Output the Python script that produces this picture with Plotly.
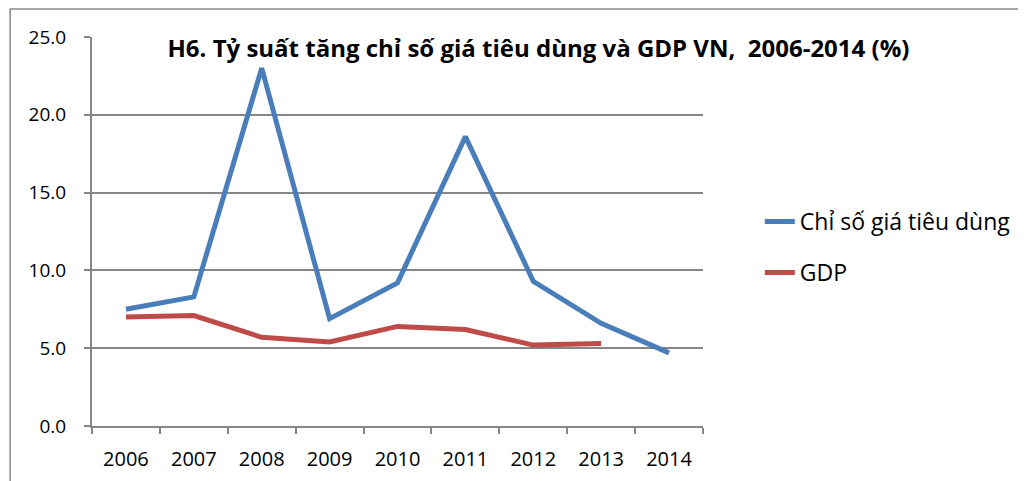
import plotly.graph_objects as go

years = ["2006", "2007", "2008", "2009", "2010", "2011", "2012", "2013", "2014"]
cpi = [7.5, 8.3, 23.0, 6.9, 9.2, 18.6, 9.3, 6.6, 4.7]
gdp = [7.0, 7.1, 5.7, 5.4, 6.4, 6.2, 5.2, 5.3, None]

fig = go.Figure()
fig.add_trace(go.Scatter(x=years, y=cpi, mode="lines", name="Chỉ số giá tiêu dùng",
                         legendgroup="cpi", line=dict(color="#4A7EBB", width=5)))
fig.add_trace(go.Scatter(x=years, y=gdp, mode="lines", name="GDP",
                         legendgroup="gdp", line=dict(color="#BE4B48", width=5)))

grey = "#868686"
fig.update_layout(
    width=1026, height=481,
    margin=dict(l=84, r=331, t=29, b=63),
    paper_bgcolor="white", plot_bgcolor="white",
    font=dict(family="Open Sans", size=19, color="black"),
    title=dict(text="<b>H6. Tỷ suất tăng chỉ số giá tiêu dùng và GDP VN,  2006-2014 (%)</b>",
               x=0.517, xanchor="center", y=0.915, yanchor="middle",
               font=dict(size=24, color="black")),
    showlegend=True,
    legend=dict(x=1.093, y=0.46, xanchor="left", yanchor="middle",
                font=dict(size=23), tracegroupgap=18, bgcolor="rgba(0,0,0,0)"),
    xaxis=dict(type="category", range=[-0.5, 8.5], tickson="boundaries",
               ticks="outside", ticklen=6, tickcolor=grey, tickwidth=2,
               showline=True, linecolor=grey, linewidth=2, showgrid=False,
               ticklabelstandoff=14, tickfont=dict(size=20)),
    yaxis=dict(range=[0, 25], tickvals=[0, 5, 10, 15, 20, 25], tickformat=".1f",
               ticks="outside", ticklen=6, tickcolor=grey, tickwidth=2,
               showline=True, linecolor=grey, linewidth=2,
               showgrid=True, gridcolor=grey, gridwidth=2, zeroline=False,
               ticklabelstandoff=14, tickfont=dict(size=19)),
    shapes=[dict(type="rect", xref="paper", yref="paper",
                 x0=-0.134, x1=1.6, y0=-0.3, y1=1.072,
                 line=dict(color=grey, width=1.5), layer="below")],
)

fig.write_html("out.html")
